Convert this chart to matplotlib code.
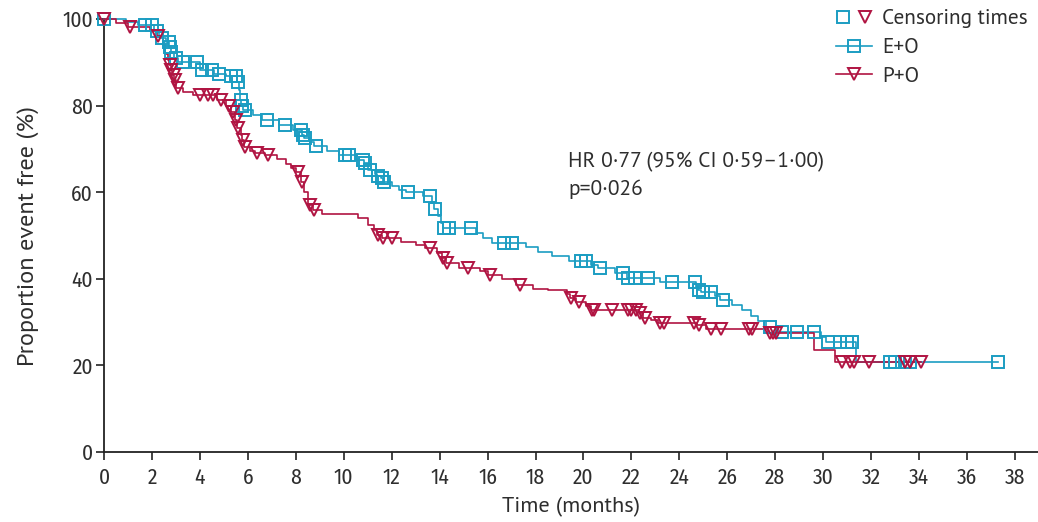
import numpy as np
import matplotlib
matplotlib.use("Agg")
import matplotlib.pyplot as plt
from matplotlib.lines import Line2D
from matplotlib.legend_handler import HandlerTuple
import logging
logging.getLogger("matplotlib.font_manager").setLevel(logging.ERROR)

# ---------------- data ----------------
eo_times = [0, 0.9, 1.4, 2.1, 2.3, 2.35, 2.6, 2.72, 2.78, 2.9, 3.1, 4.0, 4.6, 5.1, 5.55,
            5.65, 5.68, 5.72, 5.8, 6.2, 6.6, 7.3, 7.9, 8.25, 8.35, 8.6, 8.75, 9.3, 9.8,
            10.5, 10.85, 11.0, 11.3, 11.4, 11.55, 11.65, 12.0, 12.3, 12.6, 13.3, 13.7,
            13.75, 13.95, 14.05, 14.15, 15.5, 15.8, 16.2, 17.6, 18.1, 18.7, 19.4, 20.3,
            20.6, 21.3, 21.8, 23.2, 24.7, 24.78, 24.9, 25.5, 25.7, 26.2, 26.6, 27.0, 27.3,
            27.6, 28.1, 29.9, 30.1, 31.35]
eo_surv = [100, 99.2, 98.5, 97.2, 96, 95.5, 94.7, 93.5, 92.4, 91, 90, 88.2, 87.3, 86.8, 85.5,
           83.5, 81.3, 80, 79, 77.8, 76.7, 75.5, 74.4, 73.2, 72.5, 71.6, 70.7, 69.6, 68.6,
           67.4, 66.7, 65.1, 64.3, 63.7, 63.3, 62.4, 61.5, 60.6, 60, 59.1, 57.6,
           56.1, 54.5, 53, 51.7, 50.6, 49.5, 48.3, 47.3, 46.3, 45.2, 44.1, 43.3,
           42.5, 41.3, 40.2, 39.3, 38.2, 37.4, 37, 36, 35.1, 33.9, 32.7, 31.5, 30.3,
           28.9, 27.7, 26.5, 25.4, 20.9]
eo_censor = [0, 1.7, 2.0, 2.2, 2.4, 2.7, 2.75, 2.8, 3.0, 3.3, 3.9, 4.1, 4.5, 4.8, 5.3, 5.5,
             5.6, 5.7, 5.75, 5.9, 6.8, 7.55, 8.2, 8.3, 8.4, 8.85, 10.05, 10.2, 10.8, 10.9,
             11.1, 11.45, 11.6, 11.7, 12.7, 13.6, 13.8, 14.2, 14.4, 15.3, 16.7, 17.0, 19.9,
             20.1, 20.7, 21.65, 21.85, 22.15, 22.7, 23.7, 24.65, 24.8, 25.0, 25.3, 25.8,
             27.8, 28.3, 28.9, 29.6, 30.2, 30.7, 31.0, 31.2, 32.8, 33.0, 33.4, 33.6, 37.3]

po_times = [0, 0.5, 1.0, 1.9, 2.2, 2.45, 2.55, 2.65, 2.72, 2.78, 2.85, 2.92, 3.0, 3.3, 3.7,
            4.7, 5.1, 5.3, 5.45, 5.55, 5.7, 5.75, 5.85, 6.1, 6.3, 6.7, 7.2, 7.6, 7.8, 8.0,
            8.2, 8.35, 8.5, 8.7, 9.1, 10.6, 11.0, 11.25, 11.4, 11.6, 12.4, 13.0, 13.4,
            13.9, 14.1, 14.25, 14.8, 15.7, 16.0, 16.6, 17.2, 17.9, 18.5, 19.3, 19.45,
            19.7, 20.1, 20.3, 22.3, 22.5, 22.8, 23.1, 24.75, 25.1, 27.7, 29.6, 30.5]
po_surv = [100, 99.0, 98.2, 97.2, 96, 94, 92, 90.5, 89.4, 88.2, 87, 86, 84, 83.2, 82.4,
           81.3, 80, 78.5, 76.7, 74.8, 73.2, 72, 70.4, 69.6, 69, 68.6, 67.6, 66.6, 65.6, 64.7,
           62.4, 60, 57, 55.9, 55.0, 54.0, 52.4, 51.3, 50.1, 49.4, 48.5, 47.8, 47.1,
           46, 44.8, 43.6, 42.5, 41.7, 40.9, 40, 38.6, 37.6, 37.3, 36.4, 35.6,
           34.6, 33.8, 32.8, 32.1, 31.0, 30.4, 29.7, 29.3, 28.5, 27.5, 23.5, 20.8]
po_censor = [0, 1.1, 2.25, 2.75, 2.8, 2.9, 2.95, 3.1, 4.0, 4.35, 4.55, 4.9, 5.2, 5.4, 5.5,
             5.6, 5.8, 5.9, 6.4, 6.85, 8.1, 8.25, 8.6, 8.75, 11.45, 11.65, 12.0, 13.6,
             14.15, 14.3, 15.2, 16.1, 17.35, 19.5, 19.8, 20.35, 20.45, 21.2, 21.85, 22.0,
             22.2, 22.35, 22.55, 23.2, 23.35, 24.6, 24.8, 25.3, 25.75, 26.9, 27.05, 27.8,
             27.9, 28.05, 30.8, 31.1, 31.3, 31.9, 33.4, 33.6, 34.1]

x_ticks = list(range(0, 39, 2))
y_ticks = [0, 20, 40, 60, 80, 100]
series_names = ["E+O", "P+O"]
annotation = ["HR 0\u00b777 (95% CI 0\u00b759\u20131\u00b700)", "p=0\u00b7026"]

# ---------------- style ----------------
BLUE = "#1b9dc2"
RED = "#b01442"
TXT = "#2e2e2e"
NARROW = ["Fira Sans Condensed", "DejaVu Sans"]
SANS = ["PT Sans", "Fira Sans", "Open Sans", "DejaVu Sans"]

fig = plt.figure(figsize=(10.38, 5.22), dpi=100)
ax = fig.add_axes([104 / 1038, 70 / 522, 934 / 1038, 433 / 522])


def step_value(times, surv, t):
    idx = np.searchsorted(np.asarray(times), np.asarray(t), side="right") - 1
    return np.asarray(surv)[idx]


for times, surv, cens, col, mk in [(eo_times, eo_surv, eo_censor, BLUE, "s"),
                                   (po_times, po_surv, po_censor, RED, "v")]:
    end = max(cens)
    xs = list(times) + [end]
    ys = list(surv) + [surv[-1]]
    ax.step(xs, ys, where="post", color=col, lw=1.2, zorder=3, clip_on=False)
    cy = step_value(times, surv, cens)
    ax.plot(cens, cy, ls="none", marker=mk, ms=8.5, mfc="none", mec=col, mew=1.4,
            zorder=4, clip_on=False)

ax.set_xlim(0, 38.96)
ax.set_ylim(0, 100)
ax.set_xticks(x_ticks)
ax.set_yticks(y_ticks)
for s in ["top", "right"]:
    ax.spines[s].set_visible(False)
for s in ["left", "bottom"]:
    ax.spines[s].set_linewidth(1.3)
    ax.spines[s].set_color("#222222")
ax.tick_params(axis="both", direction="out", length=6, width=1.2, color="#222222",
               labelsize=15.5, labelcolor=TXT)
ax.tick_params(axis="x", pad=5)
ax.tick_params(axis="y", pad=2)
for lab in ax.get_xticklabels() + ax.get_yticklabels():
    lab.set_family(NARROW)
    lab.set_stretch("condensed")

ax.set_xlabel("Time (months)", fontsize=16, color=TXT, family=SANS, labelpad=6)
ax.set_ylabel("Proportion event free (%)", fontsize=17.5, color=TXT, family=SANS, labelpad=17)

ax.text(19.35, 67.0, annotation[0], fontsize=15.5, color=TXT, family=SANS, va="center")
ax.text(19.35, 60.6, annotation[1], fontsize=15.5, color=TXT, family=SANS, va="center")

h_cens = (Line2D([], [], ls="none", marker="s", ms=8.5, mfc="none", mec=BLUE, mew=1.4),
          Line2D([], [], ls="none", marker="v", ms=8.5, mfc="none", mec=RED, mew=1.4))
h_eo = Line2D([], [], color=BLUE, lw=1.2, marker="s", ms=8.5, mfc="none", mec=BLUE, mew=1.4)
h_po = Line2D([], [], color=RED, lw=1.2, marker="v", ms=8.5, mfc="none", mec=RED, mew=1.4)
leg = fig.legend([h_cens, h_eo, h_po], ["Censoring times"] + series_names,
                 handler_map={tuple: HandlerTuple(ndivide=None, pad=0.4)},
                 loc="upper left", bbox_to_anchor=(832 / 1038, 0.99), frameon=False,
                 handlelength=1.7, handletextpad=0.45, labelspacing=0.45,
                 prop={"family": SANS, "size": 15.3}, borderaxespad=0.0, borderpad=0.2)
for t in leg.get_texts():
    t.set_color(TXT)

fig.savefig("out.png", dpi=100)
